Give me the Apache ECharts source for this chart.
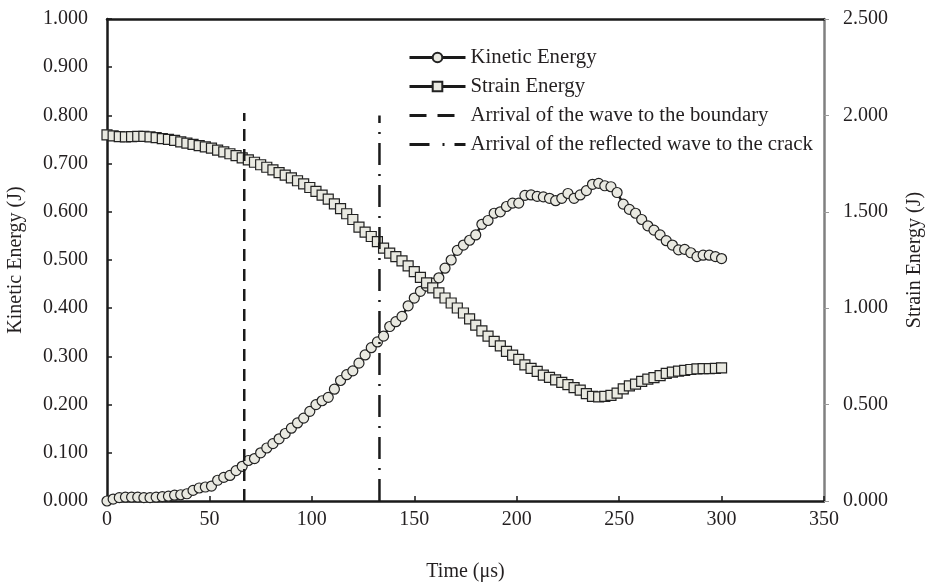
<!DOCTYPE html>
<html>
<head>
<meta charset="utf-8">
<script src="https://cdn.jsdelivr.net/npm/echarts@6/dist/echarts.min.js"></script>
<style>
html,body{margin:0;padding:0;background:#fff;}
#chart{width:928px;height:584px;}
</style>
</head>
<body>
<div id="chart"></div>
<script>
const timeUs = [0,3,6,9,12,15,18,21,24,27,30,33,36,39,42,45,48,51,54,57,60,63,66,69,72,75,78,81,84,87,90,93,96,99,102,105,108,111,114,117,120,123,126,129,132,135,138,141,144,147,150,153,156,159,162,165,168,171,174,177,180,183,186,189,192,195,198,201,204,207,210,213,216,219,222,225,228,231,234,237,240,243,246,249,252,255,258,261,264,267,270,273,276,279,282,285,288,291,294,297,300];

const kineticEnergy = [0.000,0.004,0.007,0.008,0.008,0.008,0.007,0.007,0.008,0.009,0.010,0.012,0.013,0.015,0.022,0.027,0.029,0.031,0.043,0.049,0.053,0.063,0.072,0.084,0.088,0.100,0.110,0.119,0.129,0.140,0.151,0.162,0.172,0.186,0.200,0.208,0.215,0.232,0.250,0.262,0.270,0.286,0.303,0.318,0.330,0.342,0.362,0.372,0.383,0.405,0.421,0.435,0.446,0.452,0.463,0.483,0.500,0.520,0.531,0.541,0.552,0.574,0.582,0.597,0.600,0.611,0.618,0.618,0.634,0.635,0.632,0.631,0.628,0.623,0.628,0.638,0.628,0.635,0.644,0.657,0.659,0.654,0.652,0.640,0.616,0.605,0.597,0.584,0.571,0.562,0.552,0.540,0.531,0.521,0.522,0.515,0.507,0.510,0.510,0.507,0.503];

const strainEnergy = [1.899,1.894,1.890,1.889,1.890,1.891,1.891,1.889,1.885,1.880,1.876,1.870,1.863,1.856,1.850,1.843,1.837,1.830,1.820,1.811,1.801,1.791,1.780,1.769,1.757,1.744,1.731,1.717,1.703,1.690,1.676,1.661,1.645,1.626,1.606,1.586,1.566,1.541,1.516,1.490,1.460,1.420,1.395,1.372,1.345,1.312,1.286,1.268,1.245,1.220,1.190,1.160,1.131,1.105,1.080,1.053,1.027,1.001,0.975,0.945,0.912,0.882,0.855,0.828,0.805,0.776,0.757,0.735,0.706,0.688,0.672,0.653,0.641,0.628,0.615,0.604,0.588,0.575,0.557,0.543,0.540,0.543,0.548,0.560,0.582,0.597,0.606,0.620,0.632,0.640,0.650,0.662,0.668,0.674,0.677,0.682,0.685,0.687,0.687,0.688,0.690];

const boundaryLineX = [67, 67];
const boundaryLineY = [0, 0.805];
const crackLineX = [133, 133];
const crackLineY = [0, 0.8];

const seriesNames = ['Kinetic Energy','Strain Energy','Arrival of the wave to the boundary','Arrival of the reflected wave to the crack'];
const xTicks = {min:0, max:350, interval:50};
const yLeftTicks = {min:0, max:1, interval:0.1};
const yRightTicks = {min:0, max:2.5, interval:0.5};

const FONT = 'Liberation Serif';
const TXT = '#231f20';
const FS = 20;

function pairs(xs, ys){ return xs.map((x,i)=>[x, ys[i]]); }

const chart = echarts.init(document.getElementById('chart'), null, {renderer:'canvas'});
chart.setOption({
  animation:false,
  backgroundColor:'#fff',
  grid:{left:107, right:104, top:19, bottom:83, containLabel:false, outerBoundsMode:'none'},
  legend:{
    orient:'vertical', left:403, top:42,
    itemWidth:56, itemHeight:12, itemGap:8,
    textStyle:{fontFamily:FONT, fontSize:20.8, color:TXT},
    data:[
      {name:seriesNames[0], lineStyle:{width:3}},
      {name:seriesNames[1], lineStyle:{width:3}},
      {name:seriesNames[2], itemStyle:{opacity:0}, lineStyle:{type:[17,11], width:3}},
      {name:seriesNames[3], itemStyle:{opacity:0}, lineStyle:{type:[20,13,2,10,11], width:3}}
    ]
  },
  xAxis:[{
    type:'value', position:'bottom', min:xTicks.min, max:xTicks.max, interval:xTicks.interval,
    axisLine:{show:true, onZero:false, lineStyle:{color:'#1a1a1a', width:2.5}},
    axisTick:{show:true, inside:true, length:5, lineStyle:{color:'#1a1a1a', width:1.5}},
    axisLabel:{fontFamily:FONT, fontSize:FS, color:TXT, margin:9},
    splitLine:{show:false},
    name:'Time (μs)', nameLocation:'middle', nameGap:61,
    nameTextStyle:{fontFamily:FONT, fontSize:FS, color:TXT}
  },{
    type:'value', position:'top', min:xTicks.min, max:xTicks.max,
    axisLine:{show:true, onZero:false, lineStyle:{color:'#1a1a1a', width:2.5}},
    axisTick:{show:false}, axisLabel:{show:false}, splitLine:{show:false}
  }],
  yAxis:[{
    type:'value', position:'left', min:yLeftTicks.min, max:yLeftTicks.max, interval:yLeftTicks.interval,
    axisLine:{show:true, onZero:false, lineStyle:{color:'#1a1a1a', width:2.5}},
    axisTick:{show:true, inside:true, length:5, lineStyle:{color:'#1a1a1a', width:1.5}},
    axisLabel:{fontFamily:FONT, fontSize:FS, color:TXT, margin:19, formatter:v=>v.toFixed(3)},
    splitLine:{show:false},
    name:'Kinetic Energy (J)', nameLocation:'middle', nameRotate:90, nameGap:81,
    nameTextStyle:{fontFamily:FONT, fontSize:FS, color:TXT}
  },{
    type:'value', position:'right', min:yRightTicks.min, max:yRightTicks.max, interval:yRightTicks.interval,
    alignTicks:false,
    axisLine:{show:true, onZero:false, lineStyle:{color:'#808080', width:2.5}},
    axisTick:{show:true, inside:false, length:5, lineStyle:{color:'#999', width:1}},
    axisLabel:{fontFamily:FONT, fontSize:FS, color:TXT, margin:19, formatter:v=>v.toFixed(3)},
    splitLine:{show:false},
    name:'Strain Energy (J)', nameLocation:'middle', nameRotate:90, nameGap:81,
    nameTextStyle:{fontFamily:FONT, fontSize:FS, color:TXT}
  }],
  series:[{
    name:seriesNames[0], type:'line', xAxisIndex:0, yAxisIndex:0,
    data:pairs(timeUs, kineticEnergy),
    symbol:'circle', symbolSize:10, showSymbol:true, showAllSymbol:true, clip:false,
    lineStyle:{color:'#1a1a1a', width:2.5},
    itemStyle:{color:'#e9e9e1', borderColor:'#222', borderWidth:1.2},
    z:3
  },{
    name:seriesNames[1], type:'line', xAxisIndex:0, yAxisIndex:1,
    data:pairs(timeUs, strainEnergy),
    symbol:'rect', symbolSize:10, showSymbol:true, showAllSymbol:true, clip:false,
    lineStyle:{color:'#1a1a1a', width:2.5},
    itemStyle:{color:'#e9e9e1', borderColor:'#222', borderWidth:1.2},
    z:3
  },{
    name:seriesNames[2], type:'line', xAxisIndex:0, yAxisIndex:0,
    data:pairs(boundaryLineX, boundaryLineY),
    symbol:'none', lineStyle:{color:'#1a1a1a', width:2.5, type:[12,8]},
    itemStyle:{color:'#1a1a1a'},
    z:4
  },{
    name:seriesNames[3], type:'line', xAxisIndex:0, yAxisIndex:0,
    data:pairs(crackLineX, crackLineY),
    symbol:'none', lineStyle:{color:'#1a1a1a', width:2.5, type:[22,9,2,9]},
    itemStyle:{color:'#1a1a1a'},
    z:4
  }]
});
</script>
</body>
</html>
